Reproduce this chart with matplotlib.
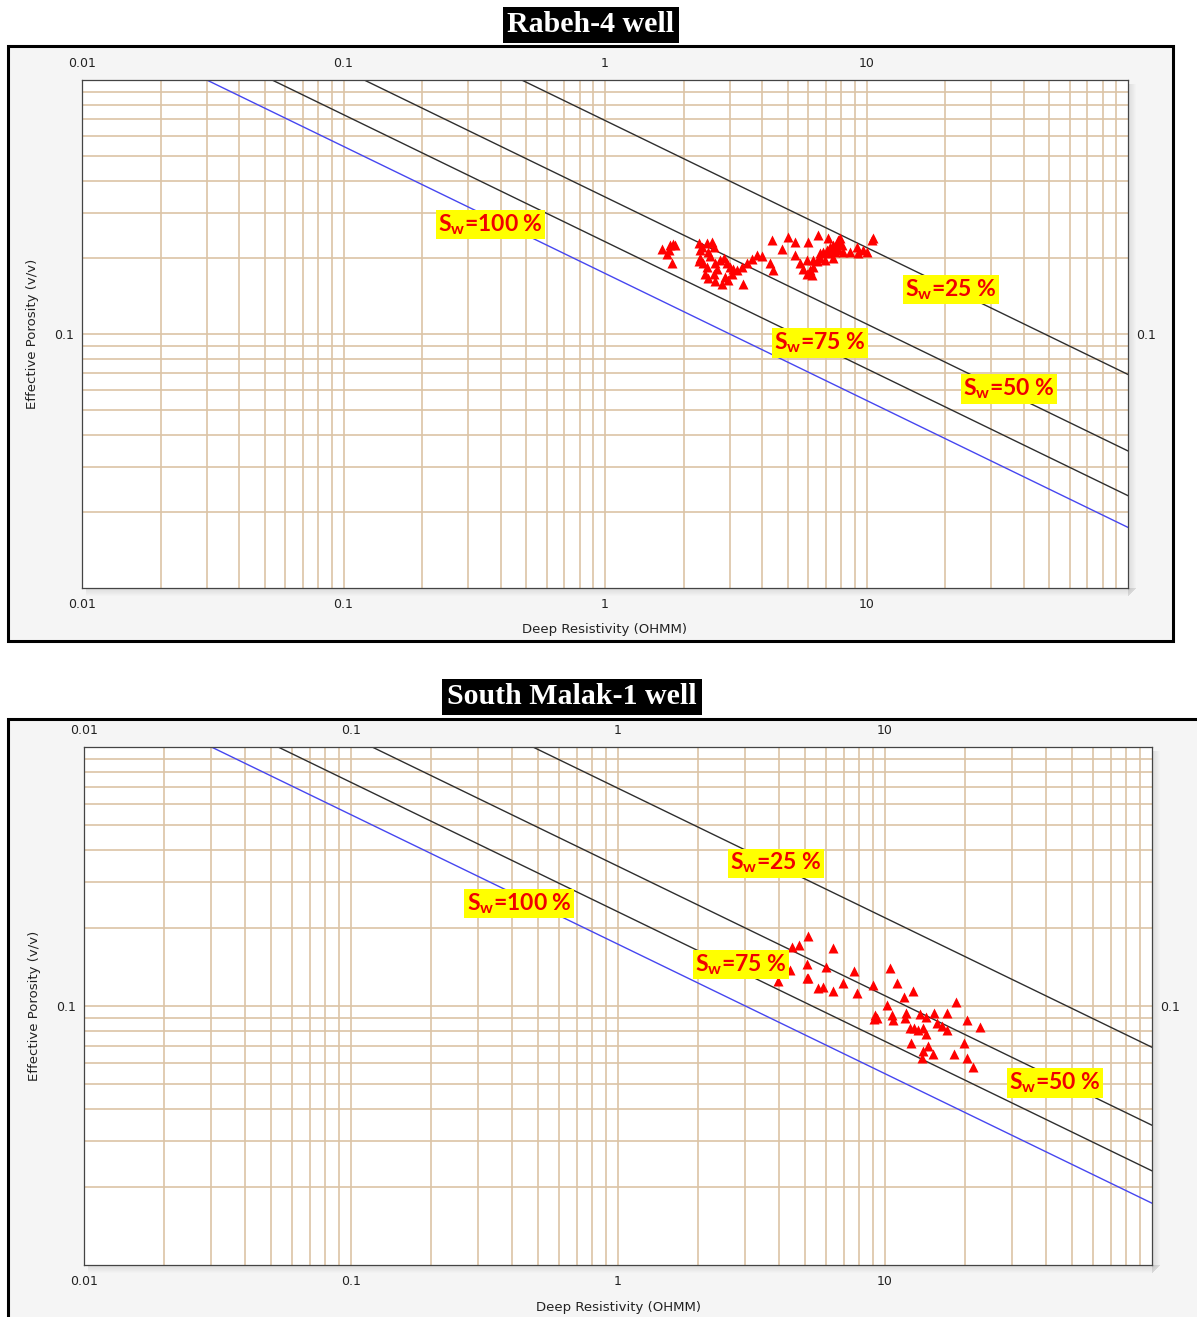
import numpy as np
import matplotlib
matplotlib.use("Agg")
import matplotlib.pyplot as plt
from matplotlib.patches import Rectangle
from matplotlib.ticker import LogLocator, NullFormatter

plt.rcParams["mathtext.fontset"] = "custom"
plt.rcParams["mathtext.rm"] = "Lato:bold"
plt.rcParams["mathtext.it"] = "Lato:bold"
plt.rcParams["mathtext.bf"] = "Lato:bold"

W, H = 1197, 1317

# Pickett-plot model (Archie): Sw^n = a*Rw / (phi^m * Rt)
a_rw = 0.03
m_exp = 2.0
n_exp = 2.0
sw_levels = [1.00, 0.75, 0.50, 0.25]

x_ticks = [0.01, 0.1, 1, 10]
x_tick_labels = ["0.01", "0.1", "1", "10"]
y_ticks = [0.1]
y_tick_labels = ["0.1"]

# Rabeh-4 well: deep resistivity (ohm.m) and effective porosity (v/v)
rabeh_rt = [1.65, 1.72, 1.77, 1.82, 1.85, 1.75, 1.80,
            2.28, 2.31, 2.45, 2.56, 2.60, 2.48, 2.31, 2.28, 2.38, 2.45,
            2.41, 2.48, 2.60, 2.67, 2.63, 2.79, 2.88, 2.75, 2.84, 2.92,
            3.01, 3.10, 3.19, 3.33, 3.48, 3.64, 3.80, 3.97, 3.38, 2.96,
            3.05, 2.63, 2.52, 2.34,
            4.34, 4.74, 5.02, 5.33, 5.33, 5.99, 6.54, 4.28, 4.40,
            5.57, 5.74, 5.91, 6.17, 5.91, 6.26, 6.45, 6.64, 6.84, 7.04,
            7.25, 7.47, 7.69, 7.80, 7.92, 7.58, 7.25, 6.94, 7.47, 7.80,
            8.16, 8.65, 9.17, 9.31, 9.73, 10.0, 10.5, 10.6, 7.15, 6.26,
            7.69, 8.04, 7.36, 6.64, 6.08]
rabeh_phi = [0.217, 0.206, 0.224, 0.226, 0.224, 0.214, 0.190,
             0.228, 0.214, 0.229, 0.231, 0.221, 0.211, 0.199, 0.193, 0.190, 0.184,
             0.173, 0.166, 0.173, 0.181, 0.161, 0.158, 0.168, 0.196, 0.199, 0.190,
             0.184, 0.181, 0.179, 0.184, 0.190, 0.197, 0.205, 0.202, 0.158, 0.163,
             0.173, 0.190, 0.202, 0.221,
             0.235, 0.217, 0.242, 0.231, 0.205, 0.231, 0.245, 0.190, 0.179,
             0.190, 0.181, 0.173, 0.171, 0.196, 0.196, 0.193, 0.208, 0.211, 0.214,
             0.221, 0.224, 0.228, 0.235, 0.238, 0.211, 0.208, 0.196, 0.199, 0.214,
             0.211, 0.211, 0.221, 0.208, 0.214, 0.211, 0.235, 0.238, 0.238, 0.184,
             0.221, 0.224, 0.217, 0.199, 0.179]

# South Malak-1 well
malak_rt = [5.16, 4.47, 4.78, 6.41, 4.41, 5.12, 6.01, 5.09, 5.16, 3.99,
            5.63, 5.88, 6.37, 6.98, 7.66, 7.88, 9.05, 10.4, 11.1, 12.7,
            11.8, 10.2, 9.18, 9.31, 9.10, 10.6, 10.7, 11.9, 12.0, 13.5,
            14.3, 15.2, 17.0, 18.5, 15.6, 16.3, 17.0, 12.4, 12.8, 13.3,
            13.9, 14.3, 20.2, 22.6, 12.5, 14.5, 13.9, 13.7, 15.1, 18.1,
            19.7, 20.3, 21.4]
malak_phi = [0.186, 0.169, 0.172, 0.167, 0.138, 0.145, 0.141, 0.128, 0.128, 0.125,
             0.117, 0.118, 0.114, 0.123, 0.136, 0.112, 0.121, 0.140, 0.123, 0.114,
             0.108, 0.101, 0.092, 0.090, 0.089, 0.092, 0.088, 0.090, 0.094, 0.093,
             0.091, 0.094, 0.094, 0.104, 0.086, 0.084, 0.081, 0.082, 0.082, 0.081,
             0.082, 0.078, 0.088, 0.083, 0.072, 0.070, 0.067, 0.063, 0.065, 0.065,
             0.072, 0.063, 0.058]

# Saturation-line annotations (Sw, Rt, phi)
rabeh_label_sw = [1.00, 0.25, 0.75, 0.50]
rabeh_label_rt = [0.366, 21.0, 6.64, 35.1]
rabeh_label_phi = [0.269, 0.150, 0.0922, 0.0607]

malak_label_sw = [0.25, 1.00, 0.75, 0.50]
malak_label_rt = [3.91, 0.426, 2.89, 43.3]
malak_label_phi = [0.356, 0.248, 0.145, 0.0504]

GRID = "#dcc4a6"
PANEL_BG = "#f5f5f5"


def fig_rect(x0, y0, x1, y1, **kw):
    return Rectangle((x0 / W, 1 - y1 / H), (x1 - x0) / W, (y1 - y0) / H,
                     transform=fig.transFigure, **kw)


def add_shadow(x0, y0, x1, y1):
    # soft drop shadow to the right of and below the plotting area
    for i in range(8):
        a = 0.10 * (1 - i / 8)
        fig.add_artist(fig_rect(x1 + i, y0 + 4, x1 + i + 1, y1 + 8 - i,
                                fc="black", ec="none", alpha=a, zorder=-0.5))
        fig.add_artist(fig_rect(x0 + 4, y1 + i, x1 + 8 - i, y1 + i + 1,
                                fc="black", ec="none", alpha=a, zorder=-0.5))


def pickett(ax_box, rt, phi, lab_sw, lab_rt, lab_phi, title, title_xy,
            frame_box, xlabel_y, ylabel_x):
    x0, y0, x1, y1 = frame_box
    fig.add_artist(fig_rect(x0, y0, x1, y1, fc=PANEL_BG, ec="black",
                            lw=2.2, zorder=-1))
    fig.text(title_xy[0] / W, 1 - title_xy[1] / H, title, ha="center",
             va="center", color="white", fontsize=21.5, fontweight="bold",
             family="Liberation Serif",
             bbox=dict(boxstyle="square,pad=0.16", fc="black", ec="none"))

    ax0, ay0, ax1, ay1 = ax_box
    add_shadow(ax0, ay0, ax1, ay1)
    ax = fig.add_axes([ax0 / W, 1 - ay1 / H, (ax1 - ax0) / W, (ay1 - ay0) / H])
    ax.set_xscale("log")
    ax.set_yscale("log")
    ax.set_xlim(0.01, 100)
    ax.set_ylim(0.01, 1)
    ax.set_xticks(x_ticks, x_tick_labels)
    ax.set_yticks(y_ticks, y_tick_labels)
    ax.xaxis.set_minor_locator(LogLocator(base=10, subs=np.arange(2, 10)))
    ax.yaxis.set_minor_locator(LogLocator(base=10, subs=np.arange(2, 10)))
    ax.xaxis.set_minor_formatter(NullFormatter())
    ax.yaxis.set_minor_formatter(NullFormatter())
    ax.tick_params(which="both", length=0, labelsize=9, labelcolor="#222222",
                   top=True, labeltop=True, right=True, labelright=True)
    ax.tick_params(axis="x", pad=7)
    ax.tick_params(axis="y", which="major", pad=6)
    ax.set_axisbelow(True)
    ax.grid(True, which="both", color=GRID, lw=1.2)
    for s in ax.spines.values():
        s.set_color("#444444")
        s.set_linewidth(0.9)

    rt_line = np.logspace(-2, 2, 300)
    for sw in sw_levels:
        phi_line = (a_rw / (sw ** n_exp * rt_line)) ** (1 / m_exp)
        color = "#4646f0" if sw == 1.0 else "#2e2e2e"
        ax.plot(rt_line, phi_line, color=color, lw=1.0, zorder=2)

    ax.plot(rt, phi, ls="none", marker="^", ms=6.8, color="#ff0000",
            mec="none", zorder=4)

    for sw, x, y in zip(lab_sw, lab_rt, lab_phi):
        ax.text(x, y, r"S$_\mathrm{w}$=%d %%" % round(sw * 100), ha="center",
                va="center", color="#f00000", fontsize=16.5, fontweight="bold",
                family="Lato", zorder=6,
                bbox=dict(boxstyle="square,pad=0.1", fc="#ffff00", ec="none"))

    fig.text((ax0 + ax1) / 2 / W, 1 - xlabel_y / H, "Deep Resistivity (OHMM)",
             ha="center", va="center", fontsize=9.5, color="#222222")
    fig.text(ylabel_x / W, 1 - (ay0 + ay1) / 2 / H, "Effective Porosity (v/v)",
             ha="center", va="center", rotation=90, fontsize=9.5,
             color="#222222")
    return ax


fig = plt.figure(figsize=(W / 100, H / 100), dpi=100)
fig.patch.set_facecolor("white")

pickett((82, 80, 1128, 588), rabeh_rt, rabeh_phi,
        rabeh_label_sw, rabeh_label_rt, rabeh_label_phi,
        "Rabeh-4 well", (591, 25), (8, 46, 1173, 641), 630, 33)

pickett((84, 747, 1152, 1265), malak_rt, malak_phi,
        malak_label_sw, malak_label_rt, malak_label_phi,
        "South Malak-1 well", (572, 697), (8, 719, 1210, 1340), 1307, 35)

fig.savefig("out.png", dpi=100, facecolor="white")
